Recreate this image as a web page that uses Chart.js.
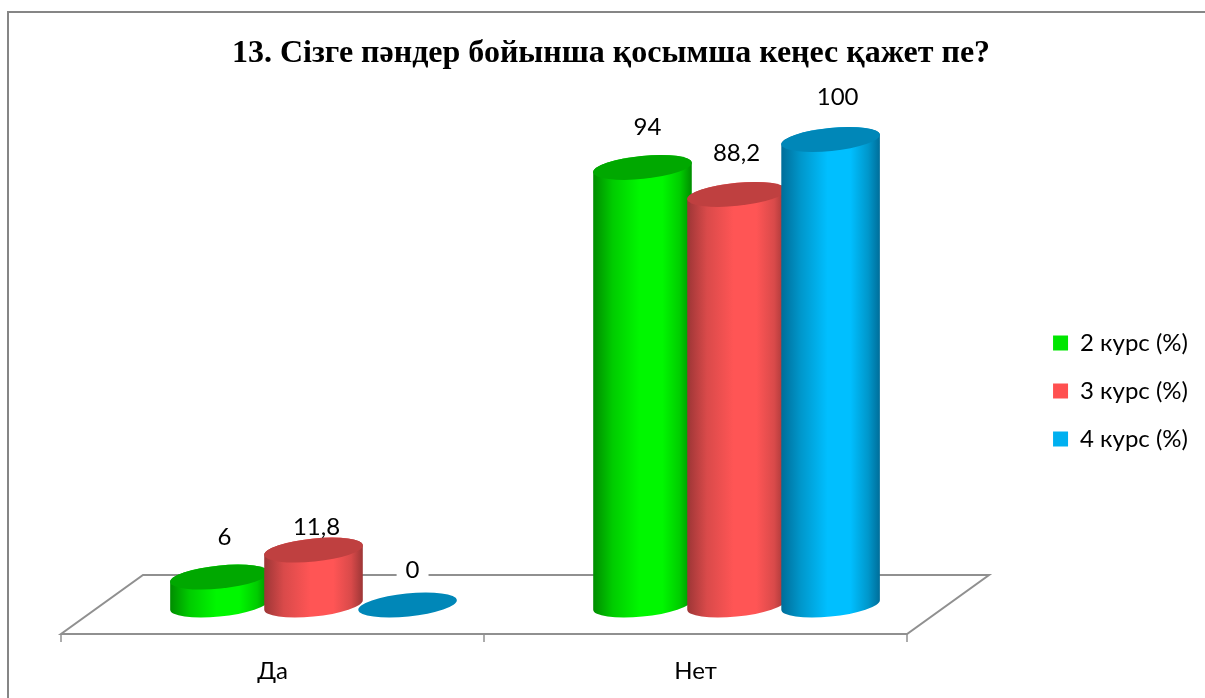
<!DOCTYPE html>
<html>
<head>
<meta charset="utf-8">
<style>html,body{margin:0;padding:0;background:#fff;overflow:hidden}#w{width:1205px;height:698px}</style>
<script src="https://cdn.jsdelivr.net/npm/chart.js@4/dist/chart.umd.min.js"></script>
</head>
<body>
<div id="w"><canvas id="c" width="1205" height="698"></canvas></div>
<script>
const categories = ["Да", "Нет"];
const seriesNames = ["2 курс (%)", "3 курс (%)", "4 курс (%)"];
const course2 = [6, 94];
const course3 = [11.8, 88.2];
const course4 = [0, 100];
const titleText = "13. Сізге пәндер бойынша қосымша кеңес қажет пе?";

const legendColors = ["#00e600", "#ff5050", "#00b0f0"];
const brightColors = ["#00f700", "#ff5555", "#00bfff"];
const midColors = ["#00cc00", "#d94a4a", "#0097cb"];
const darkColors = ["#008c00", "#9c3636", "#006d99"];
const topColors = ["#00a800", "#bf4040", "#0087b8"];
// manual data-label placement [dx, dy] from the cylinder's top centre, per series then category
const labelShift = [
  [[5, -40], [5, -40]],
  [[3, -23], [0, -41]],
  [[5, -35], [7, -42]]
];
const TILT = -0.1, RY = 11.5;
const FONT = "Lato, 'Open Sans', sans-serif";

const cylinderPlugin = {
  id: "cylinder",
  afterLayout(chart) {
    chart.legend.top += 42;
    chart.legend.bottom += 42;
  },
  beforeDraw(chart) {
    const c = chart.ctx;
    c.save();
    c.fillStyle = "#fff";
    c.fillRect(0, 0, chart.width, chart.height);
    c.strokeStyle = "#868686";
    c.lineWidth = 2;
    c.beginPath();
    c.moveTo(8, chart.height + 2);
    c.lineTo(8, 12);
    c.lineTo(chart.width + 2, 12);
    c.stroke();
    c.restore();
  },
  beforeDatasetsDraw(chart) {
    const c = chart.ctx, xs = chart.scales.x;
    // floor of the 3-D plot
    const bx = 41, fy = 634, by = 575;
    c.save();
    c.strokeStyle = "#909090";
    c.lineWidth = 2;
    c.beginPath();
    c.moveTo(xs.left - bx, fy);
    c.lineTo(xs.right - bx, fy);
    c.lineTo(xs.right + bx, by);
    c.lineTo(xs.left + bx, by);
    c.closePath();
    c.stroke();
    c.lineWidth = 1.5;
    const step = (xs.right - xs.left) / categories.length;
    for (let i = 0; i <= categories.length; i++) {
      const tx = Math.round(xs.left - bx + i * step);
      c.beginPath();
      c.moveTo(tx, fy);
      c.lineTo(tx, fy + 8);
      c.stroke();
    }
    c.restore();

    // cylinders built on the library's bar elements, first series at the back
    chart.data.datasets.forEach((ds, di) => {
      chart.getDatasetMeta(di).data.forEach((el) => {
        const p = el.getProps(["x", "y", "base", "width"]);
        const rx = p.width / 2;
        const t = Math.atan((RY / rx) * Math.tan(-TILT));
        const left = p.x - rx, right = p.x + rx;
        const g = c.createLinearGradient(left, 0, right, 0);
        g.addColorStop(0, darkColors[di]);
        g.addColorStop(0.2, midColors[di]);
        g.addColorStop(0.47, brightColors[di]);
        g.addColorStop(0.7, brightColors[di]);
        g.addColorStop(0.88, midColors[di]);
        g.addColorStop(1, darkColors[di]);
        c.save();
        if (p.base - p.y > 0.5) {
          c.beginPath();
          c.ellipse(p.x, p.y, rx, RY, TILT, t + Math.PI, t + 2 * Math.PI);
          c.ellipse(p.x, p.base, rx, RY, TILT, t, t + Math.PI);
          c.closePath();
          c.fillStyle = g;
          c.fill();
        }
        c.beginPath();
        c.ellipse(p.x, p.y, rx, RY, TILT, 0, 2 * Math.PI);
        c.fillStyle = topColors[di];
        c.fill();
        c.restore();
      });
    });

    // data labels
    c.save();
    c.font = "24px " + FONT;
    c.textAlign = "center";
    c.textBaseline = "middle";
    chart.data.datasets.forEach((ds, di) => {
      chart.getDatasetMeta(di).data.forEach((el, i) => {
        const p = el.getProps(["x", "y"]);
        const txt = String(ds.data[i]).replace(".", ",");
        const lx = p.x + labelShift[di][i][0], ly = p.y + labelShift[di][i][1];
        if (ds.data[i] === 0) {
          const w = c.measureText(txt).width + 18;
          c.fillStyle = "#fff";
          c.fillRect(lx - w / 2, ly - 11, w, 22);
        }
        c.fillStyle = "#000";
        c.fillText(txt, lx, ly);
      });
    });
    c.restore();
    return false;
  }
};

new Chart(document.getElementById("c"), {
  type: "bar",
  data: {
    labels: categories,
    datasets: [
      { label: seriesNames[0], data: course2, backgroundColor: legendColors[0] },
      { label: seriesNames[1], data: course3, backgroundColor: legendColors[1] },
      { label: seriesNames[2], data: course4, backgroundColor: legendColors[2] }
    ]
  },
  options: {
    responsive: false,
    animation: false,
    events: [],
    categoryPercentage: 0.667,
    barPercentage: 1.053,
    layout: { padding: { left: 24, right: 7, top: 0, bottom: 0 } },
    plugins: {
      tooltip: { enabled: false },
      title: {
        display: true,
        text: titleText,
        color: "#000",
        font: { family: "'Liberation Serif', serif", size: 32, weight: "bold", lineHeight: 1.2 },
        padding: { top: 34.5, bottom: 66.6 }
      },
      legend: {
        position: "right",
        labels: {
          color: "#000",
          font: { family: FONT, size: 24 },
          boxWidth: 15,
          boxHeight: 15,
          padding: 24
        }
      }
    },
    scales: {
      x: {
        type: "category",
        grid: { display: false },
        border: { display: false },
        ticks: { color: "#000", font: { family: FONT, size: 24 }, padding: 44, labelOffset: -41, maxRotation: 0 },
        afterFit(s) { s.height = 93; }
      },
      y: {
        position: "right",
        min: 0,
        max: 100,
        grid: { display: false },
        border: { display: false },
        ticks: { display: false },
        afterFit(s) { s.width = 81; }
      },
      yLeftSpace: {
        position: "left",
        min: 0,
        max: 100,
        grid: { display: false },
        border: { display: false },
        ticks: { display: false },
        afterFit(s) { s.width = 78; }
      }
    }
  },
  plugins: [cylinderPlugin]
});
</script>
</body>
</html>
